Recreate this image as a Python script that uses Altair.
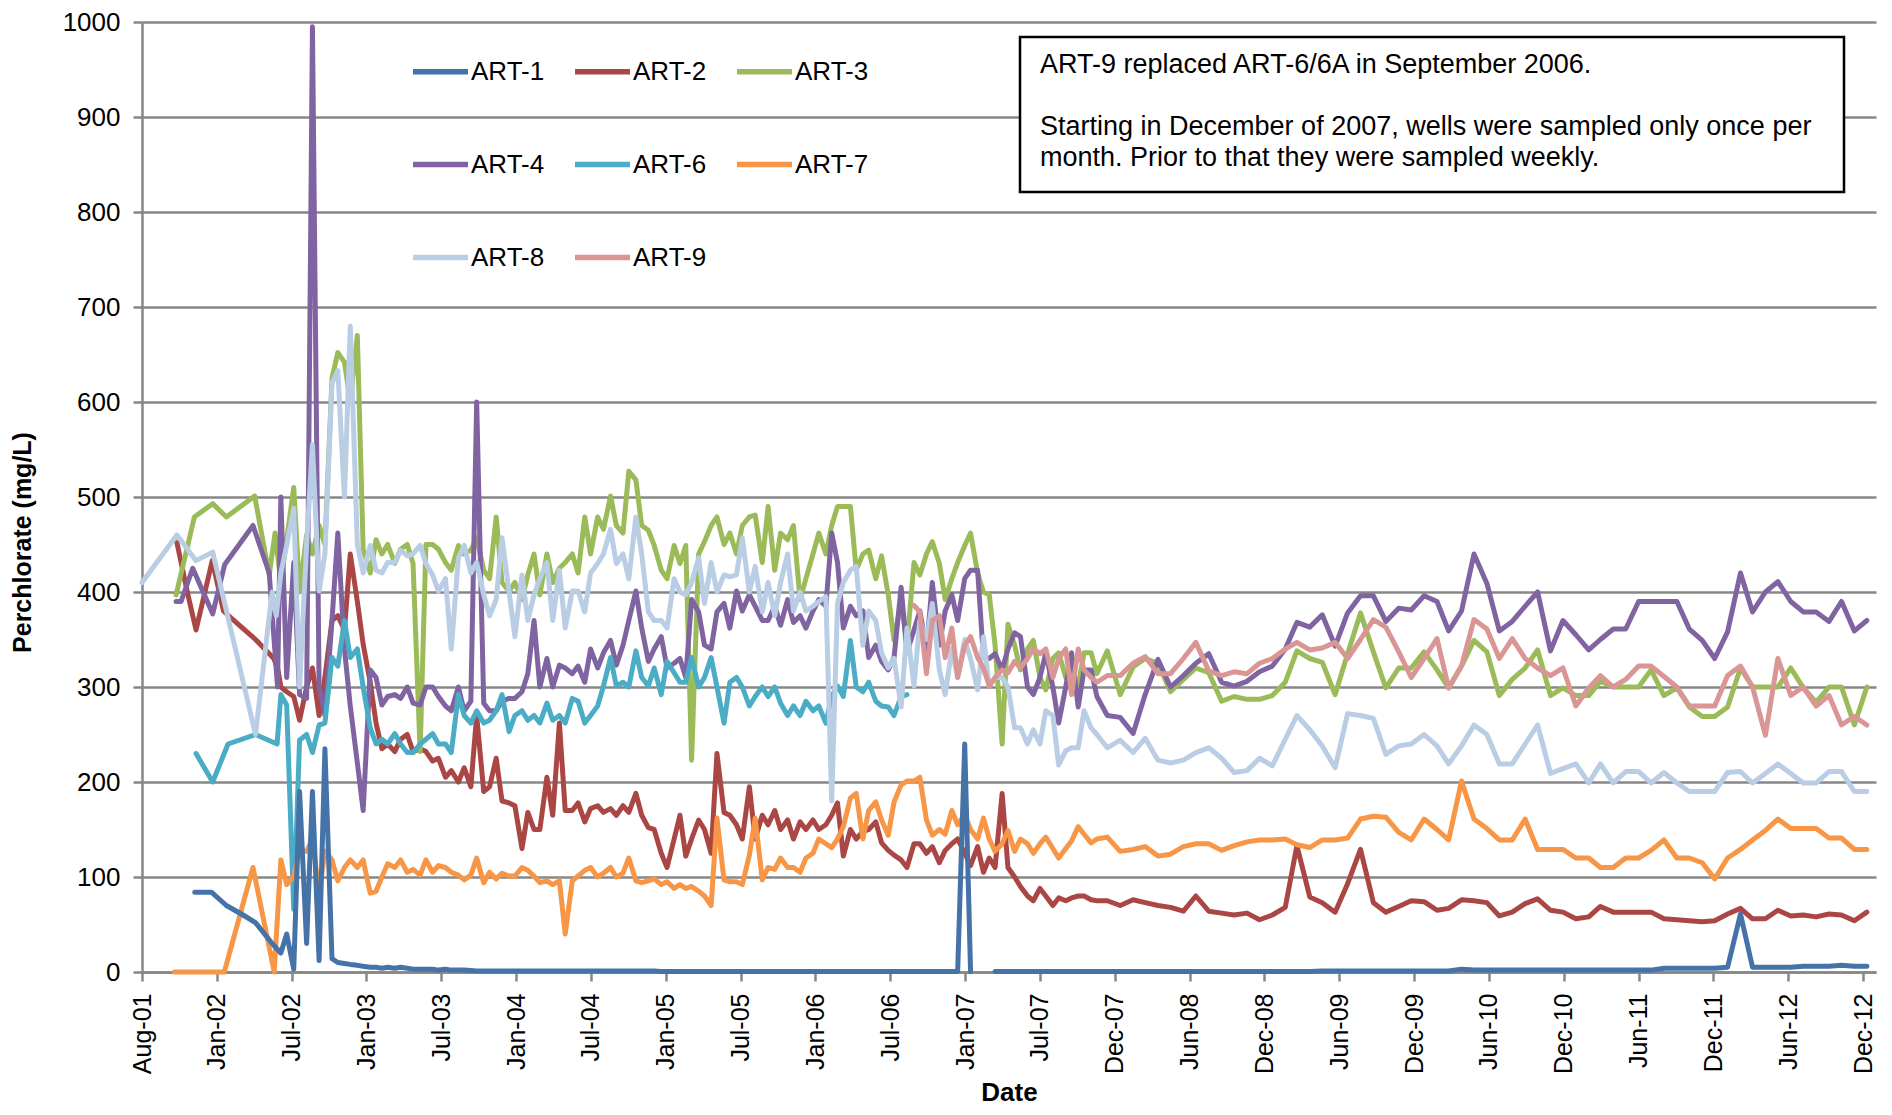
import altair as alt
import pandas as pd

SERIES = ["ART-1", "ART-2", "ART-3", "ART-4", "ART-6", "ART-7", "ART-8", "ART-9"]
COLORS = ["#4572A7", "#AA4643", "#9BBB59", "#8064A2", "#4BACC6", "#F79646", "#B9CDE5", "#D99694"]
DRAW_ORDER = ["ART-2", "ART-3", "ART-4", "ART-6", "ART-7", "ART-8", "ART-9", "ART-1"]

# sampling dates: weekly era read at half-month resolution, then monthly
DENSE_DATES = list(pd.date_range("2002-07-01", "2007-11-15", freq="SMS"))
MONTHLY_DATES = list(pd.date_range("2007-12-01", "2012-12-01", freq="MS") + pd.Timedelta(days=9))
TICK_DATES = list(pd.date_range("2001-08-01", periods=24, freq="180D"))
Y_TICKS = [0, 100, 200, 300, 400, 500, 600, 700, 800, 900, 1000]

NOTE_FIRST = ["ART-9 replaced ART-6/6A in September 2006."]
NOTE_SECOND = [
    "Starting in December of 2007, wells were sampled only once per",
    "month. Prior to that they were sampled weekly.",
]

# ---------------- ART-1 ----------------
ART1_EARLY_DATES = ["2001-12-06", "2002-01-15", "2002-02-20", "2002-04-01", "2002-05-01", "2002-06-10"]
ART1_EARLY = [84, 84, 70, 60, 52, 30]
ART1_DENSE = [
    20, 40, 3, 190, 30, 190, 12, 235, 14, 10,
    9, 8, 7, 6, 5, 5, 4, 5, 4, 5,
    4, 3, 3, 3, 3, 2, 3, 2, 2, 2,
    1.5, 1, 1, 1, 1, 1, 1, 1, 1, 1,
    1, 1, 1, 1, 1, 1, 1, 1, 1, 1,
    1, 1, 1, 1, 1, 1, 1, 1, 1, 1,
    0.5, 0.5, 0.5, 0.5, 0.5, 0.5, 0.5, 0.5, 0.5, 0.5,
    0.5, 0.5, 0.5, 0.5, 0.5, 0.5, 0.5, 0.5, 0.5, 0.5,
    0.5, 0.5, 0.5, 0.5, 0.5, 0.5, 0.5, 0.5, 0.5, 0.5,
    0.5, 0.5, 0.5, 0.5, 0.5, 0.5, 0.5, 0.5, 0.5, 0.5,
    0.5, 0.5, 0.5, 0.5, 0.5, 0.5, 0.5, 0.5, 240, 0.5,
    None, None, None, 0.5, 0.5, 0.5, 0.5, 0.5, 0.5, 0.5,
    0.5, 0.5, 0.5, 0.5, 0.5, 0.5, 0.5, 0.5, 0.5, 0.5,
]
ART1_MONTHLY = [
    0.5, 0.5, 0.5, 0.5, 0.5, 0.5, 0.5, 0.5, 0.5, 0.5,
    0.5, 0.5, 0.5, 0.5, 0.5, 0.5, 0.5, 1, 1, 1,
    1, 1, 1, 1, 1, 1, 1, 1, 3, 2,
    2, 2, 2, 2, 2, 2, 2, 2, 2, 2,
    2, 2, 2, 2, 4, 4, 4, 4, 4, 5,
    61, 5, 5, 5, 5, 6, 6, 6, 7, 6,
    6,
]

# ---------------- ART-2 ----------------
ART2_EARLY_DATES = ["2001-10-24", "2001-11-18", "2001-12-09", "2002-01-17", "2002-02-13",
                    "2002-03-18", "2002-05-01", "2002-06-14", "2002-06-24"]
ART2_EARLY = [452, 400, 360, 433, 380, 367, 350, 330, 318]
ART2_DENSE = [
    300, 295, 290, 265, 300, 320, 270, 310, 370, 375,
    360, 440, 390, 345, 305, 262, 235, 240, 232, 245,
    250, 232, 235, 232, 222, 225, 205, 212, 200, 215,
    195, 270, 190, 195, 225, 180, 178, 175, 130, 168,
    150, 150, 205, 165, 262, 170, 170, 178, 158, 172,
    175, 168, 172, 165, 175, 168, 188, 165, 152, 150,
    125, 110, 140, 165, 122, 140, 160, 150, 125, 230,
    168, 165, 155, 140, 195, 140, 165, 155, 170, 150,
    160, 140, 158, 150, 160, 150, 155, 165, 178, 122,
    150, 140, 148, 150, 158, 136, 128, 123, 118, 110,
    135, 135, 125, 132, 115, 128, 135, 140, 125, 112,
    132, 105, 120, 110, 188, 110, 100, 90, 80, 75,
    88, 80, 70, 78, 75, 78, 80, 80, 76, 75,
]
ART2_MONTHLY = [
    75, 70, 76, 73, 70, 68, 64, 80, 64, 62,
    60, 62, 55, 60, 68, 133, 79, 73, 63, 93,
    129, 73, 63, 69, 75, 74, 65, 67, 76, 75,
    73, 59, 63, 72, 77, 65, 63, 56, 58, 69,
    63, 63, 63, 63, 56, 55, 54, 53, 54, 61,
    67, 56, 56, 65, 59, 60, 58, 61, 60, 54,
    63,
]

# ---------------- ART-3 ----------------
ART3_EARLY_DATES = ["2001-10-22", "2001-12-05", "2002-01-18", "2002-02-20", "2002-04-29",
                    "2002-06-03", "2002-06-17"]
ART3_EARLY = [397, 479, 493, 479, 501, 418, 462]
ART3_DENSE = [
    410, 455, 510, 400, 460, 440, 470, 450, 625, 652,
    642, 600, 670, 445, 420, 455, 440, 450, 430, 445,
    450, 430, 232, 450, 450, 445, 431, 423, 449, 440,
    444, 457, 423, 414, 479, 410, 401, 410, 392, 418,
    440, 397, 440, 410, 425, 431, 440, 420, 479, 440,
    479, 466, 501, 470, 462, 527, 518, 470, 465, 449,
    423, 414, 449, 430, 449, 223, 440, 453, 470, 479,
    450, 462, 440, 470, 479, 481, 431, 490, 423, 462,
    455, 470, 392, 414, 440, 462, 440, 470, 490, 490,
    490, 423, 440, 444, 414, 438, 397, 349, 390, 345,
    431, 418, 440, 453, 430, 392, 414, 431, 449, 462,
    420, 400, 397, 344, 240, 366, 344, 318, 340, 349,
    310, 297, 330, 336, 310, 320, 301, 336, 336, 314,
]
ART3_MONTHLY = [
    338, 292, 321, 330, 325, 295, 308, 320, 315, 285,
    290, 287, 287, 291, 305, 338, 330, 326, 292, 335,
    378, 337, 299, 320, 320, 337, 318, 299, 322, 349,
    337, 291, 308, 320, 339, 291, 299, 291, 291, 306,
    300, 300, 300, 318, 291, 299, 279, 269, 269, 279,
    320, 300, 300, 300, 320, 299, 284, 300, 300, 260,
    300,
]

# ---------------- ART-4 ----------------
ART4_EARLY_DATES = ["2001-10-22", "2001-11-03", "2001-12-01", "2002-01-18", "2002-02-16",
                    "2002-04-25", "2002-06-03", "2002-06-23"]
ART4_EARLY = [390, 390, 425, 377, 429, 470, 420, 300]
ART4_DENSE = [
    500, 310, 431, 292, 288, 995, 300, 270, 370, 462,
    340, 280, 220, 170, 318, 310, 281, 290, 292, 288,
    300, 283, 281, 300, 300, 290, 280, 275, 300, 275,
    285, 600, 283, 275, 275, 285, 288, 288, 295, 314,
    370, 300, 330, 300, 323, 320, 314, 322, 305, 340,
    320, 336, 349, 323, 344, 370, 401, 362, 327, 340,
    353, 320, 325, 330, 310, 392, 379, 344, 340, 379,
    388, 362, 401, 380, 397, 385, 370, 370, 385, 365,
    392, 368, 375, 362, 380, 392, 385, 462, 431, 362,
    385, 375, 380, 331, 344, 327, 318, 331, 405, 336,
    360, 380, 340, 410, 344, 380, 397, 370, 414, 423,
    423, 331, 330, 335, 318, 340, 357, 353, 300, 292,
    310, 336, 300, 262, 300, 336, 279, 318, 318, 290,
]
ART4_MONTHLY = [
    270, 268, 251, 292, 329, 300, 312, 325, 335, 305,
    301, 306, 316, 322, 340, 368, 363, 376, 343, 378,
    396, 396, 369, 383, 381, 396, 390, 359, 380, 440,
    409, 359, 369, 385, 400, 338, 370, 355, 339, 350,
    361, 361, 390, 390, 390, 390, 361, 349, 330, 358,
    420, 379, 400, 411, 390, 379, 379, 369, 390, 359,
    370,
]

# ---------------- ART-6 ----------------
ART6_EARLY_DATES = ["2001-12-09", "2002-01-18", "2002-02-24", "2002-05-01", "2002-06-22"]
ART6_EARLY = [230, 200, 240, 250, 240]
ART6_DENSE = [
    292, 281, 66, 244, 250, 231, 260, 262, 331, 322,
    370, 331, 340, 300, 257, 240, 245, 240, 251, 240,
    231, 231, 240, 245, 251, 240, 240, 231, 292, 270,
    262, 275, 262, 265, 275, 292, 253, 270, 275, 265,
    270, 262, 283, 265, 270, 262, 288, 285, 262, 270,
    280, 301, 331, 301, 305, 300, 338, 310, 301, 320,
    292, 327, 315, 305, 305, 331, 300, 310, 331, 300,
    262, 305, 310, 300, 280, 290, 300, 290, 300, 283,
    270, 280, 270, 285, 275, 280, 262, 290, 301, 290,
    349, 300, 295, 305, 285, 280, 279, 270, 290, 292,
]
ART6_MONTHLY = []

# ---------------- ART-7 ----------------
ART7_EARLY_DATES = ["2001-10-18", "2001-12-20", "2002-02-15", "2002-04-25", "2002-06-15"]
ART7_EARLY = [0, 0, 0, 110, 0]
ART7_DENSE = [
    118, 92, 101, 127, 127, 140, 83, 127, 118, 96,
    110, 118, 110, 118, 83, 85, 100, 114, 110, 118,
    105, 108, 102, 118, 105, 112, 110, 105, 102, 97,
    102, 120, 94, 105, 98, 104, 101, 101, 110, 107,
    101, 94, 96, 92, 96, 40, 96, 101, 107, 110,
    100, 104, 110, 100, 104, 120, 96, 94, 96, 98,
    92, 95, 88, 92, 88, 90, 85, 80, 70, 162,
    97, 95, 95, 92, 123, 162, 97, 110, 108, 120,
    110, 110, 105, 120, 125, 140, 135, 131, 140, 153,
    183, 188, 140, 170, 179, 160, 144, 179, 197, 201,
    201, 205, 160, 144, 150, 145, 170, 155, 166, 150,
    140, 162, 140, 127, 135, 149, 127, 140, 135, 125,
    135, 142, 130, 120, 130, 138, 153, 145, 136, 140,
]
ART7_MONTHLY = [
    142, 127, 129, 132, 122, 124, 132, 135, 135, 128,
    133, 137, 139, 139, 140, 134, 131, 139, 139, 141,
    161, 164, 163, 147, 139, 161, 150, 139, 201, 161,
    151, 139, 139, 161, 129, 129, 129, 120, 120, 110,
    110, 120, 120, 128, 139, 120, 120, 115, 98, 120,
    129, 139, 149, 161, 151, 151, 151, 141, 141, 129,
    129,
]

# ---------------- ART-8 ----------------
ART8_EARLY_DATES = ["2001-08-01", "2001-10-24", "2001-12-09", "2002-01-18", "2002-05-01",
                    "2002-06-10", "2002-06-20"]
ART8_EARLY = [410, 460, 433, 442, 250, 400, 375]
ART8_DENSE = [
    420, 449, 488, 300, 450, 555, 401, 440, 620, 633,
    500, 680, 450, 420, 449, 423, 420, 431, 431, 444,
    438, 440, 449, 430, 418, 401, 414, 340, 436, 449,
    420, 431, 397, 375, 392, 457, 400, 353, 418, 370,
    397, 414, 431, 370, 423, 362, 401, 401, 379, 420,
    430, 440, 466, 430, 440, 414, 479, 440, 379, 370,
    370, 362, 414, 400, 397, 410, 436, 388, 431, 400,
    418, 416, 418, 457, 400, 427, 379, 410, 375, 410,
    440, 380, 400, 380, 385, 390, 395, 180, 388, 410,
    423, 427, 344, 380, 370, 336, 320, 330, 279, 362,
    301, 370, 350, 388, 318, 292, 340, 310, 350, 330,
    297, 353, 301, 310, 310, 300, 257, 257, 240, 255,
    240, 275, 270, 218, 233, 236, 236, 275, 257, 250,
]
ART8_MONTHLY = [
    236, 244, 231, 246, 223, 220, 223, 231, 236, 225,
    210, 212, 225, 217, 245, 270, 255, 238, 215, 272,
    270, 267, 229, 238, 240, 250, 238, 219, 238, 260,
    250, 219, 219, 240, 260, 209, 214, 219, 199, 219,
    199, 211, 211, 199, 210, 199, 190, 190, 190, 210,
    211, 199, 209, 219, 209, 199, 199, 211, 211, 190,
    190,
]

# ---------------- ART-9 (from September 2006) ----------------
ART9_EARLY_DATES = []
ART9_EARLY = []
ART9_DENSE_START = 100
ART9_DENSE = [
    386, 379, 314, 370, 375, 331, 362, 310, 344, 353,
    331, 320, 301, 310, 318, 315, 327, 320, 330, 340,
    335, 340, 310, 330, 340, 292, 340, 318, 310, 305,
]
ART9_MONTHLY = [
    312, 312, 325, 332, 314, 314, 330, 347, 317, 312,
    316, 314, 325, 330, 340, 347, 339, 341, 347, 330,
    350, 371, 363, 337, 310, 330, 351, 299, 322, 371,
    361, 330, 351, 330, 320, 312, 320, 280, 299, 312,
    300, 308, 322, 322, 311, 300, 280, 280, 280, 312,
    322, 300, 249, 330, 291, 300, 280, 291, 260, 269,
    260,
]

SPECS = {
    "ART-1": (ART1_EARLY_DATES, ART1_EARLY, 0, ART1_DENSE, ART1_MONTHLY),
    "ART-2": (ART2_EARLY_DATES, ART2_EARLY, 0, ART2_DENSE, ART2_MONTHLY),
    "ART-3": (ART3_EARLY_DATES, ART3_EARLY, 0, ART3_DENSE, ART3_MONTHLY),
    "ART-4": (ART4_EARLY_DATES, ART4_EARLY, 0, ART4_DENSE, ART4_MONTHLY),
    "ART-6": (ART6_EARLY_DATES, ART6_EARLY, 0, ART6_DENSE, ART6_MONTHLY),
    "ART-7": (ART7_EARLY_DATES, ART7_EARLY, 0, ART7_DENSE, ART7_MONTHLY),
    "ART-8": (ART8_EARLY_DATES, ART8_EARLY, 0, ART8_DENSE, ART8_MONTHLY),
    "ART-9": (ART9_EARLY_DATES, ART9_EARLY, ART9_DENSE_START, ART9_DENSE, ART9_MONTHLY),
}

rows = []
for name, (e_dates, e_vals, start, d_vals, m_vals) in SPECS.items():
    assert len(e_dates) == len(e_vals), name
    assert start + len(d_vals) <= len(DENSE_DATES), name
    assert len(m_vals) in (0, len(MONTHLY_DATES)), name
    dates = [pd.Timestamp(d) for d in e_dates] + DENSE_DATES[start:start + len(d_vals)] + MONTHLY_DATES[:len(m_vals)]
    vals = list(e_vals) + list(d_vals) + list(m_vals)
    seg = 0
    for d, v in zip(dates, vals):
        if v is None:
            seg += 1
            continue
        rows.append({"series": name, "date": d, "value": v, "seg": seg})

df = pd.DataFrame(rows)

GRAY = "#878787"
FONT = "Liberation Sans"

x_enc = alt.X(
    "date:T",
    scale=alt.Scale(domain=[alt.DateTime(year=2001, month=8, date=1),
                            alt.DateTime(year=2013, month=1, date=1)], nice=False),
    axis=alt.Axis(
        values=[alt.DateTime(year=d.year, month=d.month, date=d.day) for d in TICK_DATES],
        format="%b-%y", labelAngle=270, labelAlign="right", labelBaseline="middle",
        labelFontSize=25, labelPadding=12, labelOverlap=False, labelFlush=False,
        tickSize=9, grid=False, title="Date", titleFontSize=26, titleFontWeight="bold",
        titleY=120, titleBaseline="middle",
    ),
)
y_enc = alt.Y(
    "value:Q",
    scale=alt.Scale(domain=[0, 1000], nice=False),
    axis=alt.Axis(
        values=Y_TICKS, format="d", grid=True, gridColor=GRAY, gridWidth=2.5,
        labelFontSize=26, labelPadding=13, tickSize=9,
        title="Perchlorate (mg/L)", titleFontSize=25, titleFontWeight="bold",
        titleX=-120, titleY=520, titleAngle=270, titleAlign="center", titleBaseline="middle",
    ),
)
color_enc = alt.Color(
    "series:N",
    scale=alt.Scale(domain=SERIES, range=COLORS),
    legend=alt.Legend(
        title=None, orient="none", legendX=268, legendY=19, columns=3, direction="horizontal",
        symbolType="stroke", symbolSize=3025, symbolStrokeWidth=5.5,
        labelFontSize=26, labelFont=FONT, labelColor="black", labelOffset=0, labelLimit=300,
        columnPadding=19, rowPadding=49, padding=0,
    ),
)

base = alt.Chart(df)
layers = []
for s in DRAW_ORDER:
    layers.append(
        base.transform_filter(alt.datum.series == s)
        .mark_line(strokeWidth=5, strokeJoin="round", strokeCap="round")
        .encode(x=x_enc, y=y_enc, color=color_enc, detail="seg:N")
    )

note_df = pd.DataFrame({"k": [0]})
box = alt.Chart(note_df).mark_rect(fill="white", stroke="black", strokeWidth=2.5).encode(
    x=alt.value(878), x2=alt.value(1702), y=alt.value(15), y2=alt.value(170)
)
note1 = alt.Chart(note_df).mark_text(
    align="left", baseline="top", fontSize=27, lineHeight=31, font=FONT, color="black"
).encode(x=alt.value(898), y=alt.value(30), text=alt.value(NOTE_FIRST))
note2 = alt.Chart(note_df).mark_text(
    align="left", baseline="top", fontSize=27, lineHeight=31, font=FONT, color="black"
).encode(x=alt.value(898), y=alt.value(92), text=alt.value(NOTE_SECOND))

chart = alt.layer(*layers, box, note1, note2).properties(
    width=1734, height=950,
    padding={"left": 134, "top": 14, "right": 8, "bottom": 135},
    autosize=alt.AutoSizeParams(type="none"),
).configure(font=FONT, background="white").configure_view(strokeWidth=0).configure_axis(
    domainColor=GRAY, domainWidth=2.5, tickColor=GRAY, tickWidth=2.5,
    labelColor="black", titleColor="black", labelFont=FONT, titleFont=FONT,
)

chart.save("out.html", embed_options={"renderer": "svg", "actions": False})
